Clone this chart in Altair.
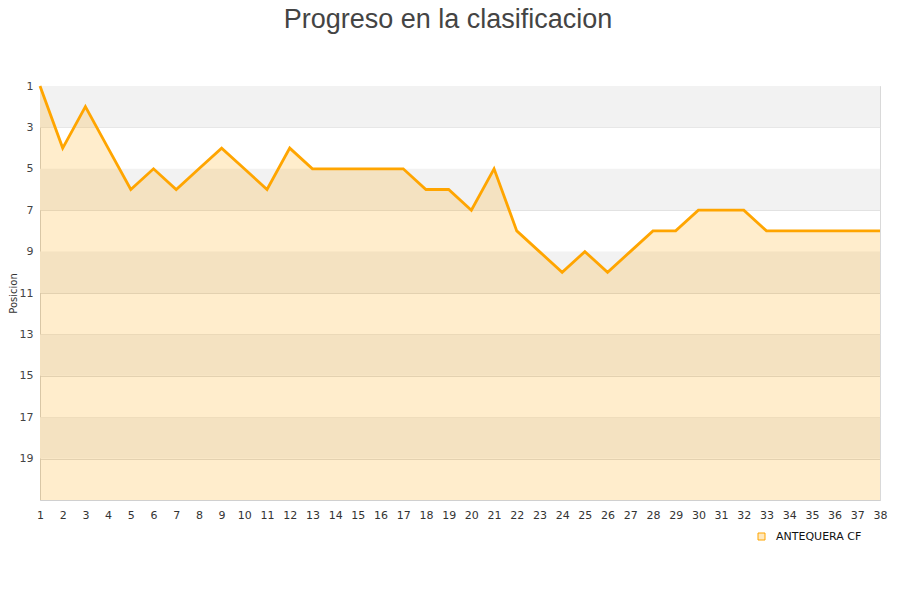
import altair as alt
import pandas as pd

jornadas = list(range(1, 39))
posiciones = [1, 4, 2, 4, 6, 5, 6, 5, 4, 5, 6, 4, 5, 5, 5, 5, 5, 6, 6, 7,
              5, 8, 9, 10, 9, 10, 9, 8, 8, 7, 7, 7, 8, 8, 8, 8, 8, 8]
equipo = "ANTEQUERA CF"
band_start = [1, 5, 9, 13, 17]
band_end = [3, 7, 11, 15, 19]
y_ticks = [1, 3, 5, 7, 9, 11, 13, 15, 17, 19]

df = pd.DataFrame({"jornada": jornadas, "pos": posiciones, "equipo": equipo})
bands = pd.DataFrame({"y1": band_start, "y2": band_end})

W, H = 840, 414
xs = alt.Scale(domain=[1, 38], nice=False, zero=False)
ys = alt.Scale(domain=[1, 21], reverse=True, nice=False, zero=False)

x_axis = alt.Axis(values=jornadas, title=None, grid=False,
                  domainColor="#d0d0d0", ticks=False, labelPadding=9,
                  labelFontSize=11, labelColor="#333",
                  labelFont="DejaVu Sans", labelFlush=False,
                  labelOverlap=False)

band_layer = alt.Chart(bands).mark_rect(color="#f2f2f2").encode(
    x=alt.value(0), x2=alt.value(W),
    y=alt.Y("y1:Q", scale=ys,
            axis=alt.Axis(values=y_ticks, title="Posicion", grid=True,
                          gridColor="#dcdcdc", domainColor="#d0d0d0",
                          ticks=False, labelPadding=7, labelFontSize=11,
                          labelColor="#444", titleFontSize=10,
                          titleFontWeight="normal", titleColor="#333",
                          titleX=-27, titleY=H / 2, titleAngle=270,
                          titleAlign="center", titleBaseline="middle",
                          labelFont="DejaVu Sans", titleFont="DejaVu Sans")),
    y2="y2:Q",
)

area = alt.Chart(df).mark_area(fillOpacity=0.2, line=False, color="#ffa500").encode(
    x=alt.X("jornada:Q", scale=xs, axis=x_axis),
    y=alt.Y("pos:Q", scale=ys),
    y2=alt.Y2(datum=21),
)

line = alt.Chart(df).mark_line(strokeWidth=2.8).encode(
    x=alt.X("jornada:Q", scale=xs, axis=x_axis),
    y=alt.Y("pos:Q", scale=ys),
    stroke=alt.Stroke("equipo:N", scale=alt.Scale(range=["#ffa500"]),
                      legend=alt.Legend(title=None, orient="none", legendX=716,
                                        legendY=445, symbolType="square",
                                        symbolSize=49,
                                        symbolFillColor="#ffe8bd",
                                        symbolStrokeWidth=1, labelOffset=9,
                                        labelFontSize=11, labelColor="#111",
                                        labelFont="DejaVu Sans")),
)

chart = alt.layer(band_layer, area, line).properties(
    width=W, height=H,
    title=alt.TitleParams("Progreso en la clasificacion", fontSize=27,
                          font="Liberation Sans", fontWeight="normal",
                          color="#444", anchor="middle", offset=46, dx=-12),
    autosize=alt.AutoSizeParams(type="none"),
    padding={"left": 32, "top": 78, "right": 8, "bottom": 90},
).configure_view(stroke="#d9d9d9").configure_axisX(labelOverlap=False)

chart.save("out.html", embed_options={"renderer": "svg", "actions": False})
